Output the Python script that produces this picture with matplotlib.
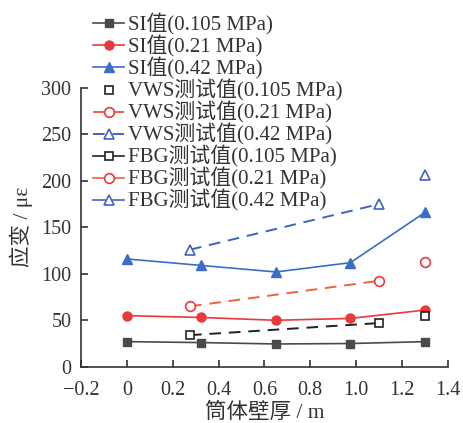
import matplotlib
matplotlib.use('Agg')
import matplotlib.pyplot as plt

plt.rcParams['font.family'] = ['Liberation Serif', 'Noto Sans CJK SC']
plt.rcParams['axes.unicode_minus'] = True

# wall thickness positions (m)
si_x = [0, 0.325, 0.65, 0.975, 1.3]
vws_x = [0.275, 1.1]
fbg_x = [1.3]

# strain (με)
si_0105 = [27, 26, 24.5, 25, 27]
si_021 = [55, 53, 50, 52, 61]
si_042 = [116, 109, 102, 112, 166]
vws_0105 = [34, 47]
vws_021 = [65, 92.5]
vws_042 = [126, 175]
fbg_0105 = [55]
fbg_021 = [113]
fbg_042 = [206]

xticks = [-0.2, 0, 0.2, 0.4, 0.6, 0.8, 1.0, 1.2, 1.4]
xtick_labels = ['\u22120.2', '0', '0.2', '0.4', '0.6', '0.8', '1.0', '1.2', '1.4']
yticks = [0, 50, 100, 150, 200, 250, 300]

gray = '#4a4a4a'
red = '#e8393c'
orange = '#f0603e'
blue = '#3a6cc8'
blue2 = '#4063c2'

fig = plt.figure(figsize=(4.64, 4.23), dpi=100)
ax = fig.add_axes([0.175, 0.133, 0.79, 0.659])

h1, = ax.plot(si_x, si_0105, '-s', color=gray, lw=1.2, ms=5.5, label='SI值(0.105 MPa)')
h2, = ax.plot(si_x, si_021, '-o', color=red, lw=1.2, ms=6.5, label='SI值(0.21 MPa)')
h3, = ax.plot(si_x, si_042, '-^', color=blue, lw=1.2, ms=7, label='SI值(0.42 MPa)')

ax.plot(vws_x, vws_0105, '--', color='#222222', lw=1.4, dashes=(6, 4))
h4, = ax.plot(vws_x, vws_0105, 's', ls='none', mfc='white', mec='#222222', mew=1.2, ms=6,
              label='VWS测试值(0.105 MPa)')
h5, = ax.plot(vws_x, vws_021, '--o', color=orange, lw=1.4, dashes=(6, 4), mfc='white',
              mec=red, mew=1.2, ms=7, label='VWS测试值(0.21 MPa)')
h6, = ax.plot(vws_x, vws_042, '--^', color=blue2, lw=1.4, dashes=(6, 4), mfc='white',
              mec=blue2, mew=1.2, ms=7, label='VWS测试值(0.42 MPa)')

h7, = ax.plot(fbg_x, fbg_0105, '-s', color='#222222', lw=1.2, mfc='white', mew=1.2, ms=6,
              label='FBG测试值(0.105 MPa)')
h8, = ax.plot(fbg_x, fbg_021, '-o', color=orange, lw=1.2, mfc='white', mec=red, mew=1.2, ms=7,
              label='FBG测试值(0.21 MPa)')
h9, = ax.plot(fbg_x, fbg_042, '-^', color=blue2, lw=1.2, mfc='white', mew=1.2, ms=7,
              label='FBG测试值(0.42 MPa)')

ax.set_xlim(-0.2, 1.4)
ax.set_ylim(0, 300)
ax.set_xticks(xticks)
ax.set_xticklabels(xtick_labels)
ax.set_yticks(yticks)
for s in ['top', 'right']:
    ax.spines[s].set_visible(False)
for s in ['left', 'bottom']:
    ax.spines[s].set_linewidth(1.2)
    ax.spines[s].set_color('#333333')
ax.tick_params(direction='in', length=5, width=1.2, labelsize=14.5, colors='#333333',
               labelcolor='#333333')
ax.tick_params(axis='x', pad=10)
ax.tick_params(axis='y', pad=7)

ax.set_xlabel('筒体壁厚 / m', fontsize=15.5, color='#333333', labelpad=2)
ax.set_ylabel('应变 / με', fontsize=15.5, color='#333333', labelpad=6)

fig.legend(handles=[h1, h2, h3, h4, h5, h6, h7, h8, h9], loc='upper left',
           bbox_to_anchor=(0.17, 1.002), frameon=False, fontsize=15,
           labelspacing=0.0, handlelength=1.45, handletextpad=0.2, borderpad=0.2,
           labelcolor='#333333')

fig.savefig('out.png', dpi=100)
